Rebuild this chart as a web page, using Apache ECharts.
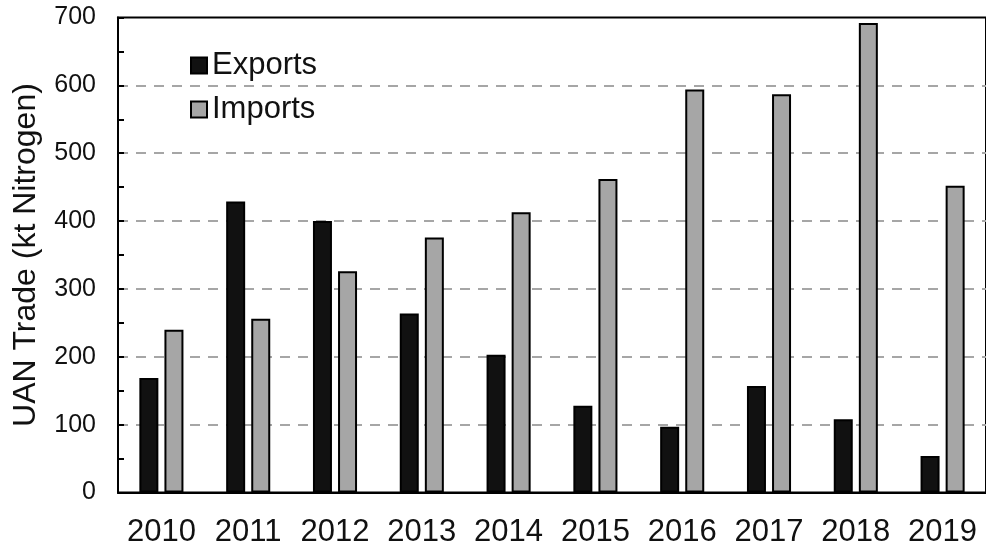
<!DOCTYPE html>
<html>
<head>
<meta charset="utf-8">
<script src="https://cdn.jsdelivr.net/npm/echarts@6/dist/echarts.min.js"></script>
<style>
  html, body { margin: 0; padding: 0; background: #fff; }
  #chart { width: 986px; height: 548px; }
</style>
</head>
<body>
<div id="chart"></div>
<script>
// data
var years = ['2010', '2011', '2012', '2013', '2014', '2015', '2016', '2017', '2018', '2019'];
var exportsKt = [169, 429, 400, 264, 203, 128, 97, 157, 108, 54];
var importsKt = [240, 256, 326, 376, 413, 462, 594, 587, 692, 452];
var yTicks = [0, 100, 200, 300, 400, 500, 600, 700];

var font = 'Arial, "Liberation Sans", sans-serif';
var chart = echarts.init(document.getElementById('chart'));

var option = {
    backgroundColor: '#fff',
    animation: false,
    grid: {
        left: 118,
        top: 17.5,
        bottom: 55.4,
        width: 877,
        show: true,
        borderColor: '#000',
        borderWidth: 2
    },
    legend: {
        orient: 'vertical',
        left: 185,
        top: 45,
        icon: 'rect',
        itemWidth: 16,
        itemHeight: 16,
        itemGap: 13,
        textStyle: { fontFamily: font, fontSize: 31, color: '#111' },
        data: ['Exports', 'Imports']
    },
    xAxis: {
        type: 'category',
        data: years,
        axisLine: { lineStyle: { color: '#000', width: 2 } },
        axisTick: { show: false },
        axisLabel: { interval: 0, hideOverlap: false, fontFamily: font, fontSize: 31, color: '#111', margin: 24 }
    },
    yAxis: {
        type: 'value',
        min: yTicks[0],
        max: yTicks[yTicks.length - 1],
        interval: 100,
        name: 'UAN Trade (kt Nitrogen)',
        nameLocation: 'middle',
        nameGap: 76,
        nameTextStyle: { fontFamily: font, fontSize: 32, color: '#111' },
        axisLine: { show: true, lineStyle: { color: '#000', width: 2 } },
        axisTick: { show: true, inside: true, length: 6, lineStyle: { color: '#000', width: 2 } },
        minorTick: { show: true, splitNumber: 2, length: 6, lineStyle: { color: '#000', width: 2 } },
        axisLabel: { fontFamily: font, fontSize: 25, color: '#111', margin: 22 },
        splitLine: {
            show: true,
            showMinLine: false,
            showMaxLine: false,
            lineStyle: { color: '#a6a6a6', width: 2, type: [10, 8] }
        }
    },
    series: [
        {
            name: 'Exports',
            type: 'bar',
            data: exportsKt,
            barWidth: 19,
            barGap: '32%',
            itemStyle: { color: '#111', borderColor: '#000', borderWidth: 2 }
        },
        {
            name: 'Imports',
            type: 'bar',
            data: importsKt,
            barWidth: 19,
            barGap: '32%',
            itemStyle: { color: '#a6a6a6', borderColor: '#000', borderWidth: 2 }
        }
    ]
};

chart.setOption(option);
</script>
</body>
</html>
